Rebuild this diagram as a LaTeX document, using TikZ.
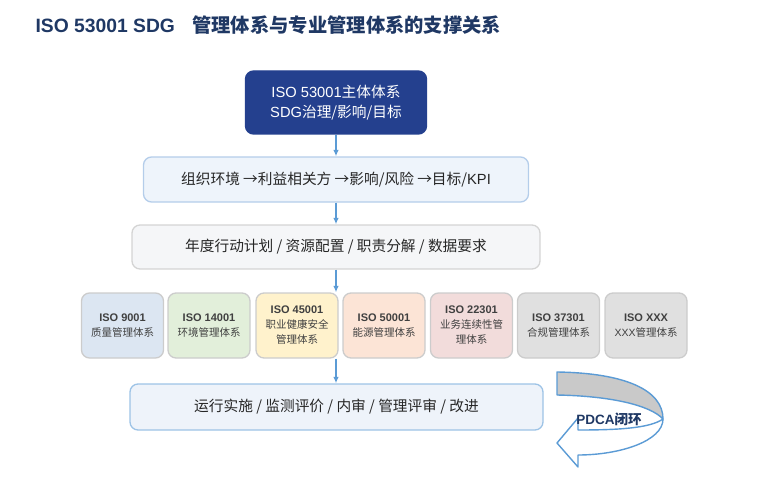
\documentclass[tikz,border=0pt]{standalone}
\usepackage{fontspec}
\setmainfont{Liberation Sans}
\newfontfamily\cjk{Noto Sans CJK SC}
\newcommand{\zh}[1]{{\cjk #1}}
\usetikzlibrary{arrows.meta,positioning}

\definecolor{navy}{RGB}{31,56,100}
\definecolor{topblue}{RGB}{36,64,142}
\definecolor{linkblue}{RGB}{91,155,213}
\definecolor{txtgray}{RGB}{38,38,38}
\definecolor{isoA}{RGB}{220,230,242}
\definecolor{isoB}{RGB}{226,239,218}
\definecolor{isoC}{RGB}{255,242,204}
\definecolor{isoD}{RGB}{252,228,214}
\definecolor{isoE}{RGB}{242,220,219}
\definecolor{isoF}{RGB}{224,224,224}
\definecolor{pdcagray}{RGB}{201,201,201}

\tikzset{
  flowbox/.style={draw, rounded corners=8, line width=1.3, inner sep=0,
    text=txtgray, font=\fontsize{14.7}{18}\selectfont},
  isobox/.style={draw=black!20, rounded corners=8, line width=1.3, inner sep=0,
    minimum width=82, minimum height=65, align=center, text=black!75,
    font=\fontsize{10.5}{15}\selectfont},
  flowarrow/.style={-{Latex[length=6.5,width=5.5]}, linkblue, line width=1.8}
}

\begin{document}
\begin{tikzpicture}[x=1pt,y=-1pt]
\useasboundingbox (0,0) rectangle (784,492);

% title
\node[anchor=base west, text=navy, font=\fontsize{19.3}{23}\selectfont\bfseries] (title) at (32,33)
  {ISO 53001 SDG\hspace{0.9em}\zh{管理体系与专业管理体系的支撑关系}};

% main flow
\node[flowbox, draw=topblue, fill=topblue, text=white, minimum width=181, minimum height=63,
  align=center, font=\fontsize{14.7}{20}\selectfont] (top) at (336,102.5)
  {ISO 53001\zh{主体体系}\\SDG\zh{治理/影响/目标}};
\node[flowbox, draw={rgb,255:red,180;green,205;blue,234}, fill={rgb,255:red,238;green,244;blue,251},
  minimum width=385, minimum height=45] (env) at (336,179.5)
  {\zh{组织环境 →利益相关方 →影响/风险 →目标/}KPI};
\node[flowbox, draw=black!17, fill={rgb,255:red,245;green,246;blue,248},
  minimum width=408, minimum height=44] (plan) at (336,247)
  {\zh{年度行动计划 / 资源配置 / 职责分解 / 数据要求}};

% professional systems
\foreach \nm/\cx/\col/\hd/\tx in {
  i9/122.5/isoA/{ISO 9001}/{\zh{质量管理体系}},
  i14/209/isoB/{ISO 14001}/{\zh{环境管理体系}},
  i45/297/isoC/{ISO 45001}/{\zh{职业健康安全}\\\zh{管理体系}},
  i50/384/isoD/{ISO 50001}/{\zh{能源管理体系}},
  i22/471.5/isoE/{ISO 22301}/{\zh{业务连续性管}\\\zh{理体系}},
  i37/558.5/isoF/{ISO 37301}/{\zh{合规管理体系}},
  ix/646/isoF/{ISO XXX}/{XXX\zh{管理体系}}}
{
  \node[isobox, fill=\col] (\nm) at (\cx,325.5)
    {{\fontsize{11}{15}\selectfont\bfseries \hd}\\\tx};
}

\node[flowbox, draw={rgb,255:red,157;green,195;blue,230}, fill={rgb,255:red,238;green,243;blue,250},
  minimum width=413, minimum height=46] (run) at (336.5,407)
  {\zh{运行实施 / 监测评价 / 内审 / 管理评审 / 改进}};

% arrows
\draw[flowarrow] (top.south) -- (top.south |- env.north);
\draw[flowarrow] (env.south) -- (env.south |- plan.north);
\draw[flowarrow] (plan.south) -- (plan.south |- i45.north);
\draw[flowarrow] (plan.south |- i45.south) -- (plan.south |- run.north);

% PDCA loop arrow
\filldraw[fill=pdcagray, draw=linkblue, line width=1.4, line join=round]
  (557,372) .. controls (625,373) and (663,390) .. (663,419)
  .. controls (650,405) and (610,396) .. (557,395) -- cycle;
\filldraw[fill=white, draw=linkblue, line width=1.4, line join=round]
  (663,419) .. controls (663,441) and (620,455) .. (578,455)
  -- (578,467) -- (557,443) -- (578,418) -- (578,430)
  .. controls (620,430) and (650,428) .. (663,419) -- cycle;
\node[text=navy, font=\fontsize{13.5}{16}\selectfont\bfseries] (pdca) at (609,419) {PDCA\zh{闭环}};

\end{tikzpicture}
\end{document}
